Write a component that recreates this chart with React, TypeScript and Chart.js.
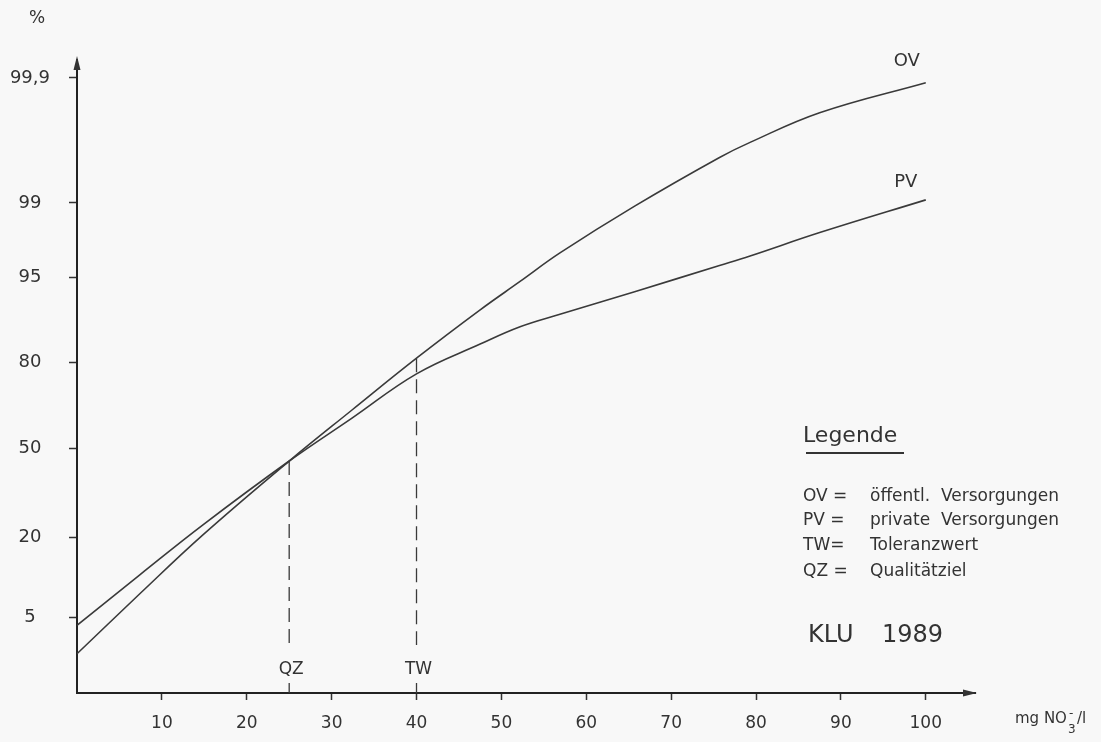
import React, { useEffect, useRef } from 'react';
import { Chart, registerables, LinearScale } from 'chart.js';

// ---------------- data ----------------
const xValues = [0, 7.4, 14.8, 25, 32.4, 40, 47.5, 52.2, 56.9, 65.7, 75.7, 79.3, 87.5, 100];
const ovValues = [2.2, 7.9, 20.5, 45.1, 64.5, 81.0, 90.9, 94.55, 96.9, 98.92, 99.54, 99.65, 99.8, 99.89];
const pvValues = [4.2, 11.1, 23.3, 45.1, 61.5, 76.6, 84.4, 88.0, 90.2, 93.4, 96.0, 96.7, 98.0, 99.05];

const xTickValues = [10, 20, 30, 40, 50, 60, 70, 80, 90, 100];
const yTickPercents = [5, 20, 50, 80, 95, 99, 99.9];
const yTickLabels = ['5', '20', '50', '80', '95', '99', '99,9'];

const markerLabels = ['QZ', 'TW'];
const markerX = [25, 40];
const markerTop = [45.1, 81.0];
const markerGapTop = 2.7; // % where dash stops above the label
const markerGapBottom = 1.05; // % where dash resumes below the label
const axisBottomPercent = 0.8;

const legendKeys = ['OV =', 'PV =', 'TW=', 'QZ ='];
const legendTexts = ['öffentl.  Versorgungen', 'private  Versorgungen', 'Toleranzwert', 'Qualitätziel'];

// ---------------- probability scale ----------------
function probit(p: number): number {
  const a = [-3.969683028665376e1, 2.209460984245205e2, -2.759285104469687e2, 1.38357751867269e2, -3.066479806614716e1, 2.506628277459239];
  const b = [-5.447609879822406e1, 1.615858368580409e2, -1.556989798598866e2, 6.680131188771972e1, -1.328068155288572e1];
  const c = [-7.784894002430293e-3, -3.223964580411365e-1, -2.400758277161838, -2.549671010149254, 4.374664141464968, 2.938163982698783];
  const d = [7.784695709041462e-3, 3.224671290700398e-1, 2.445134137142996, 3.754408661907416];
  const plow = 0.02425;
  const phigh = 1 - plow;
  if (p < plow) {
    const q = Math.sqrt(-2 * Math.log(p));
    return (((((c[0] * q + c[1]) * q + c[2]) * q + c[3]) * q + c[4]) * q + c[5]) / ((((d[0] * q + d[1]) * q + d[2]) * q + d[3]) * q + 1);
  }
  if (p <= phigh) {
    const q = p - 0.5;
    const r = q * q;
    return ((((((a[0] * r + a[1]) * r + a[2]) * r + a[3]) * r + a[4]) * r + a[5]) * q) / (((((b[0] * r + b[1]) * r + b[2]) * r + b[3]) * r + b[4]) * r + 1);
  }
  const q = Math.sqrt(-2 * Math.log(1 - p));
  return -(((((c[0] * q + c[1]) * q + c[2]) * q + c[3]) * q + c[4]) * q + c[5]) / ((((d[0] * q + d[1]) * q + d[2]) * q + d[3]) * q + 1);
}

// calibration of the hand-drawn probability paper (paper units along the axis)
const PAPER = { marks: [76, 156, 245, 331, 416, 490, 615], min: 0, max: 633 };

class ProbabilityScale extends LinearScale {
  static id = 'probability';
  paperOf(v: number): number {
    const z = probit(Math.min(Math.max(v, 1e-6), 100 - 1e-6) / 100);
    const zs = yTickPercents.map((p) => probit(p / 100));
    let i = 0;
    while (i < zs.length - 2 && z > zs[i + 1]) i++;
    const t = (z - zs[i]) / (zs[i + 1] - zs[i]);
    return PAPER.marks[i] + t * (PAPER.marks[i + 1] - PAPER.marks[i]);
  }
  getPixelForValue(v: any) {
    if (v === null || v === undefined || isNaN(v)) return NaN;
    return (this as any).getPixelForDecimal((this.paperOf(v) - PAPER.min) / (PAPER.max - PAPER.min));
  }
  getValueForPixel(px: number) {
    let lo = 0.0001;
    let hi = 99.9999;
    for (let k = 0; k < 60; k++) {
      const mid = (lo + hi) / 2;
      if (this.getPixelForValue(mid) > px) lo = mid;
      else hi = mid;
    }
    return (lo + hi) / 2;
  }
  buildTicks() {
    return yTickPercents.map((v) => ({ value: v }));
  }
}

Chart.register(...registerables, ProbabilityScale as any);

const FONT = '"DejaVu Sans", sans-serif';
const INK = '#333333';
const LINE = '#3a3a3a';

const annotations = {
  id: 'annotations',
  afterDraw(chart: any) {
    const ctx = chart.ctx;
    const area = chart.chartArea;
    const xs = chart.scales.x;
    const ys = chart.scales.y;
    ctx.save();
    ctx.fillStyle = INK;
    ctx.strokeStyle = INK;

    // arrow heads
    ctx.beginPath();
    ctx.moveTo(area.left, area.top - 4);
    ctx.lineTo(area.left - 3.5, area.top + 10);
    ctx.lineTo(area.left + 3.5, area.top + 10);
    ctx.closePath();
    ctx.fill();
    ctx.beginPath();
    ctx.moveTo(area.right + 2, area.bottom);
    ctx.lineTo(area.right - 12, area.bottom - 3.5);
    ctx.lineTo(area.right - 12, area.bottom + 3.5);
    ctx.closePath();
    ctx.fill();

    // "%" unit
    ctx.textAlign = 'center';
    ctx.textBaseline = 'middle';
    ctx.font = `17px ${FONT}`;
    ctx.fillText('%', 37, 19);

    // curve labels
    const n = xValues.length - 1;
    const ex = xs.getPixelForValue(xValues[n]);
    ctx.font = `18px ${FONT}`;
    ctx.fillText('OV', ex - 19, ys.getPixelForValue(ovValues[n]) - 21);
    ctx.fillText('PV', ex - 20, ys.getPixelForValue(pvValues[n]) - 18);

    // marker labels
    ctx.font = `17px ${FONT}`;
    markerLabels.forEach((lab, i) => {
      ctx.fillText(lab, xs.getPixelForValue(markerX[i]) + 2, area.bottom - 23);
    });

    // x unit
    ctx.textAlign = 'left';
    ctx.textBaseline = 'alphabetic';
    ctx.font = `15px ${FONT}`;
    let ux = 1015;
    const uy = 723;
    ctx.fillText('mg NO', ux, uy);
    ux += ctx.measureText('mg NO').width + 1;
    ctx.font = `12px ${FONT}`;
    ctx.fillText('-', ux + 1, uy - 6);
    ctx.fillText('3', ux, uy + 10);
    ux += 9;
    ctx.font = `15px ${FONT}`;
    ctx.fillText('/l', ux, uy);

    // legend block
    ctx.font = `22px ${FONT}`;
    ctx.fillText('Legende', 803, 442);
    ctx.lineWidth = 2;
    ctx.beginPath();
    ctx.moveTo(806, 453);
    ctx.lineTo(904, 453);
    ctx.stroke();

    ctx.font = `17px ${FONT}`;
    ctx.textBaseline = 'middle';
    const rows = [497, 521, 546, 572];
    legendKeys.forEach((k, i) => {
      ctx.fillText(k, 803, rows[i]);
      ctx.fillText(legendTexts[i], 870, rows[i]);
    });

    ctx.textBaseline = 'alphabetic';
    ctx.font = `24px ${FONT}`;
    ctx.fillText('KLU', 808, 642);
    ctx.fillText('1989', 882, 642);
    ctx.restore();
  },
};

export default function App() {
  const ref = useRef<HTMLCanvasElement | null>(null);

  useEffect(() => {
    if (!ref.current) return;
    const curve = (vals: number[]) => xValues.map((x, i) => ({ x, y: vals[i] }));
    const markerSets = markerLabels.map((lab, i) => ({
      label: lab,
      data: [
        { x: markerX[i], y: markerTop[i] },
        { x: markerX[i], y: markerGapTop },
        { x: markerX[i], y: null },
        { x: markerX[i], y: markerGapBottom },
        { x: markerX[i], y: axisBottomPercent },
      ],
      borderColor: LINE,
      borderWidth: 1.3,
      borderDash: [14, 7],
      pointRadius: 0,
      tension: 0,
      spanGaps: false,
      fill: false,
    }));

    const chart = new Chart(ref.current, {
      type: 'line',
      data: {
        datasets: [
          {
            label: 'OV',
            data: curve(ovValues),
            borderColor: LINE,
            borderWidth: 1.6,
            pointRadius: 0,
            tension: 0.4,
            fill: false,
          },
          {
            label: 'PV',
            data: curve(pvValues),
            borderColor: LINE,
            borderWidth: 1.6,
            pointRadius: 0,
            tension: 0.4,
            fill: false,
          },
          ...markerSets,
        ] as any,
      },
      options: {
        animation: false,
        responsive: true,
        maintainAspectRatio: false,
        events: [],
        layout: { padding: { left: 0, top: 60, right: 126, bottom: 0 } },
        plugins: { legend: { display: false }, tooltip: { enabled: false } },
        scales: {
          x: {
            type: 'linear',
            min: 0,
            max: 105.8,
            afterBuildTicks: (s: any) => {
              s.ticks = xTickValues.map((v) => ({ value: v }));
            },
            afterFit: (s: any) => {
              s.height = 49;
            },
            ticks: {
              autoSkip: false,
              maxRotation: 0,
              padding: 13,
              color: INK,
              font: { family: FONT, size: 17 },
              callback: (v: any) => String(v),
            },
            grid: { drawOnChartArea: false, drawTicks: true, tickLength: 7, tickColor: INK, tickWidth: 1.5 },
            border: { display: true, color: '#222', width: 2 },
          },
          y: {
            type: 'probability' as any,
            min: axisBottomPercent,
            max: 99.93,
            afterFit: (s: any) => {
              s.width = 77;
            },
            ticks: {
              autoSkip: false,
              padding: 19,
              crossAlign: 'center',
              color: INK,
              font: { family: FONT, size: 18 },
              callback: (v: any) => yTickLabels[yTickPercents.indexOf(v)] ?? '',
            },
            grid: { drawOnChartArea: false, drawTicks: true, tickLength: 8, tickColor: INK, tickWidth: 1.5 },
            border: { display: true, color: '#222', width: 2 },
          } as any,
        },
      },
      plugins: [annotations],
    });
    return () => chart.destroy();
  }, []);

  return (
    <div style={{ position: 'fixed', left: 0, top: 0, width: 1101, height: 742, background: '#f8f8f8' }}>
      <canvas ref={ref} />
    </div>
  );
}
